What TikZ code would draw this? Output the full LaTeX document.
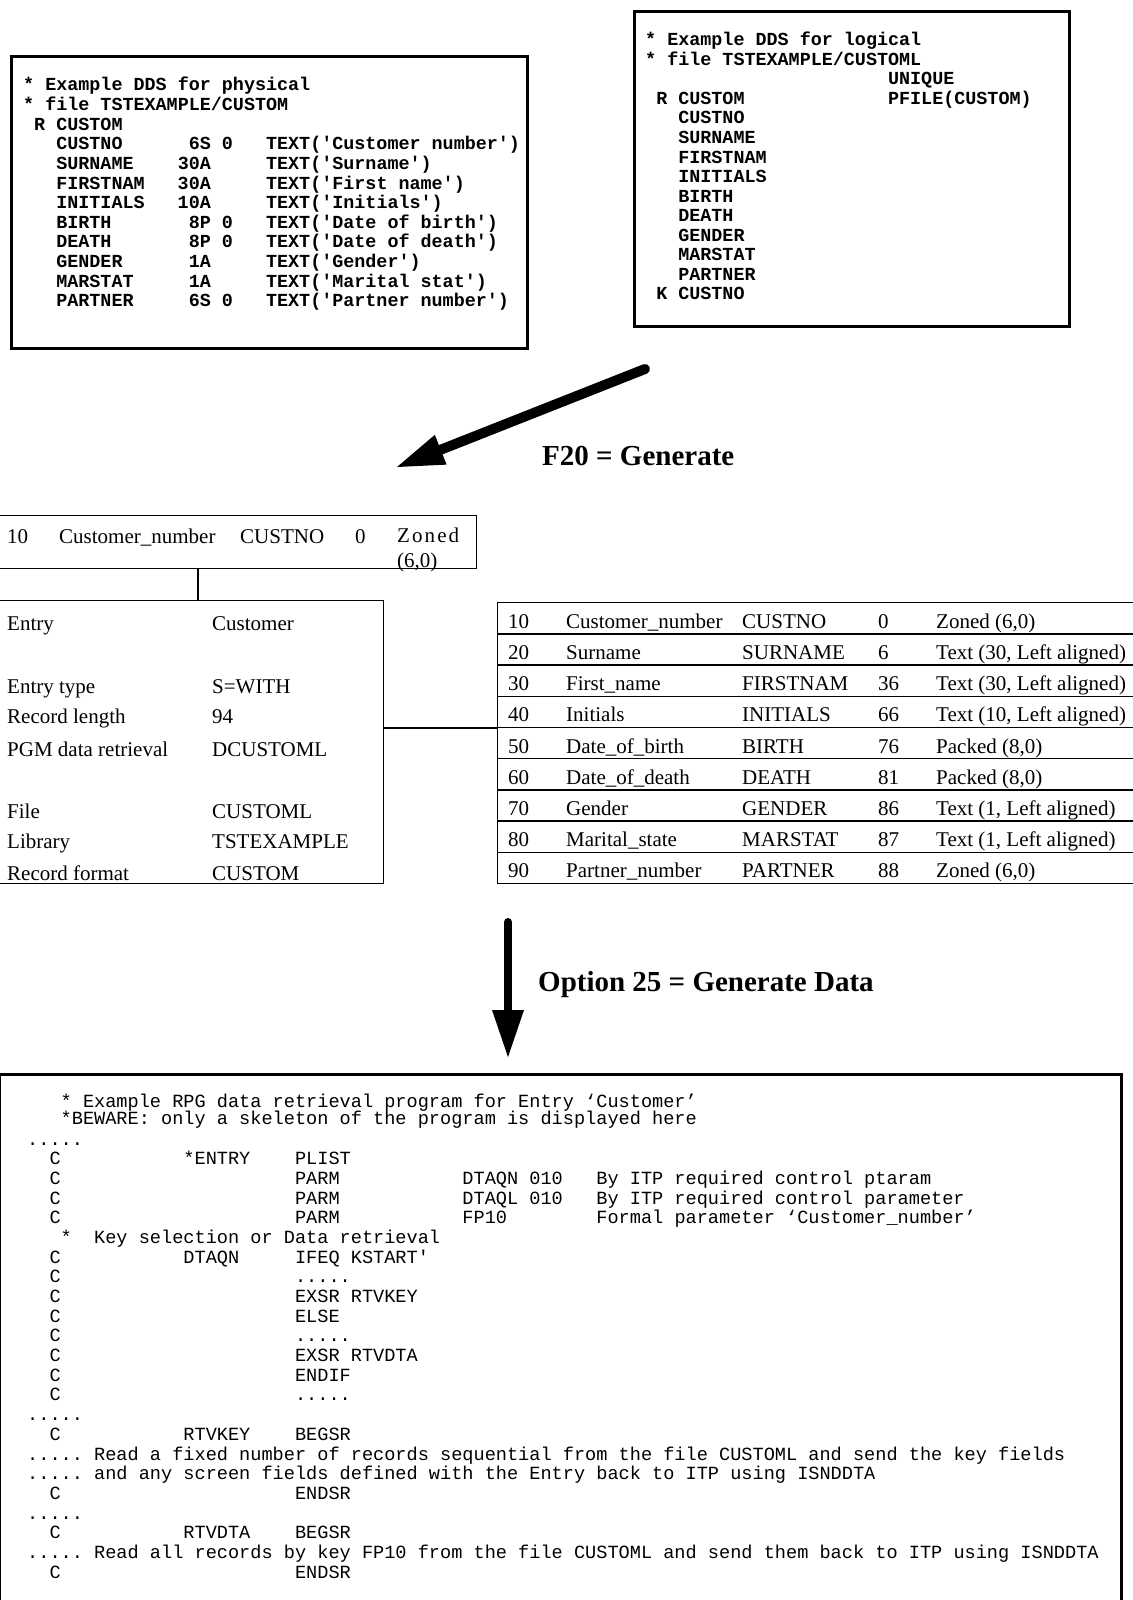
\documentclass[tikz,border=0pt]{standalone}
\usepackage{fontspec}
\setmainfont{Liberation Serif}
\setmonofont{Liberation Mono}
\newfontfamily\zonedfont{Liberation Serif}[LetterSpace=10]
\usetikzlibrary{arrows.meta, positioning}
\newcommand\cgap[1]{\hspace*{#1\dimexpr0.6em\relax}}
\newcommand\rpgdots{.....}

\begin{document}
\begin{tikzpicture}[
    x=1pt, y=-1pt,
    ddsbox/.style={rectangle, draw, line width=3pt, inner sep=0pt, anchor=north west},
    gridbox/.style={rectangle, draw, line width=1.3pt, inner sep=0pt, anchor=north west},
    ddstext/.style={anchor=base west, inner sep=0pt, font=\ttfamily\bfseries\fontsize{18.4}{20}\selectfont},
    rpgline/.style={anchor=base west, inner sep=0pt, font=\ttfamily\fontsize{18.6}{20}\selectfont},
    celltext/.style={anchor=base west, inner sep=0pt, font=\fontsize{21}{24}\selectfont},
    steplabel/.style={anchor=base west, inner sep=0pt, font=\bfseries\fontsize{29}{32}\selectfont},
    fatarrow/.style={-{Triangle[length=47pt,width=32pt,line width=0pt]}, line width=10pt, line cap=round},
    link/.style={line width=1.3pt}
]
\useasboundingbox (0,0) rectangle (1132,1600);

\node[ddsbox, minimum width=516pt, minimum height=292pt] (physdds) at (10,55) {};
\foreach \ln [count=\i] in {{*~Example~DDS~for~physical}, {*~file~TSTEXAMPLE/CUSTOM}, {~R~CUSTOM},
    {\cgap{3}CUSTNO\cgap{6}6S~0\cgap{3}TEXT('Customer~number')},
    {\cgap{3}SURNAME\cgap{4}30A\cgap{5}TEXT('Surname')},
    {\cgap{3}FIRSTNAM\cgap{3}30A\cgap{5}TEXT('First~name')},
    {\cgap{3}INITIALS\cgap{3}10A\cgap{5}TEXT('Initials')},
    {\cgap{3}BIRTH\cgap{7}8P~0\cgap{3}TEXT('Date~of~birth')},
    {\cgap{3}DEATH\cgap{7}8P~0\cgap{3}TEXT('Date~of~death')},
    {\cgap{3}GENDER\cgap{6}1A\cgap{5}TEXT('Gender')},
    {\cgap{3}MARSTAT\cgap{5}1A\cgap{5}TEXT('Marital~stat')},
    {\cgap{3}PARTNER\cgap{5}6S~0\cgap{3}TEXT('Partner~number')}}
  \node[ddstext] (phys\i) at (23,{91+(\i-1)*19.6}) {\ln};

\node[ddsbox, minimum width=435pt, minimum height=315pt] (logdds) at (633,10) {};
\foreach \ln [count=\i] in {{*~Example~DDS~for~logical}, {*~file~TSTEXAMPLE/CUSTOML},
    {\cgap{22}UNIQUE}, {~R~CUSTOM\cgap{13}PFILE(CUSTOM)},
    {\cgap{3}CUSTNO}, {\cgap{3}SURNAME}, {\cgap{3}FIRSTNAM}, {\cgap{3}INITIALS}, {\cgap{3}BIRTH},
    {\cgap{3}DEATH}, {\cgap{3}GENDER}, {\cgap{3}MARSTAT}, {\cgap{3}PARTNER}, {~K~CUSTNO}}
  \node[ddstext] (log\i) at (645,{46+(\i-1)*19.5}) {\ln};

\coordinate (ddsout) at (645,369);
\coordinate (entryin) at (397,467);
\draw[fatarrow] (ddsout) -- (entryin);
\node[steplabel] (genlabel) at (542,465) {F20 = Generate};

\node[gridbox, minimum width=478pt, minimum height=53pt] (hdr) at (-2,515) {};
\node[celltext] (hdrno) at (7,543) {10};
\node[celltext] (hdrnm) at (59,543) {Customer\_number};
\node[celltext] (hdrfld) at (240,543) {CUSTNO};
\node[celltext] (hdrpos) at (355,543) {0};
\node[celltext, font=\zonedfont\fontsize{21}{24}\selectfont] (hdrtyp) at (397,542) {Zoned};
\node[celltext] (hdrlen) at (397,567) {(6,0)};

\node[gridbox, minimum width=385pt, minimum height=283pt] (entry) at (-2,600) {};
\foreach \lab/\val/\yy [count=\e] in {Entry/Customer/630, Entry type/S=WITH/693, Record length/94/723,
    PGM data retrieval/DCUSTOML/756, File/CUSTOML/818, Library/TSTEXAMPLE/848, Record format/CUSTOM/880}
{
  \node[celltext] (elab\e) at (7,\yy) {\lab};
  \node[celltext] (eval\e) at (212,\yy) {\val};
}

\foreach \no/\nm/\fld/\pos/\typ [count=\r] in {
    10/Customer\_number/CUSTNO/0/{Zoned (6,0)},
    20/Surname/SURNAME/6/{Text (30, Left aligned)},
    30/First\_name/FIRSTNAM/36/{Text (30, Left aligned)},
    40/Initials/INITIALS/66/{Text (10, Left aligned)},
    50/Date\_of\_birth/BIRTH/76/{Packed (8,0)},
    60/Date\_of\_death/DEATH/81/{Packed (8,0)},
    70/Gender/GENDER/86/{Text (1, Left aligned)},
    80/Marital\_state/MARSTAT/87/{Text (1, Left aligned)},
    90/Partner\_number/PARTNER/88/{Zoned (6,0)}}
{
  \node[gridbox, minimum width=643pt, minimum height=31.2pt] (row\r) at (497,{602+(\r-1)*31.2}) {};
  \node[celltext] (no\r) at (508,{597+\r*31.2}) {\no};
  \node[celltext] (nm\r) at (566,{597+\r*31.2}) {\nm};
  \node[celltext] (fld\r) at (742,{597+\r*31.2}) {\fld};
  \node[celltext] (pos\r) at (878,{597+\r*31.2}) {\pos};
  \node[celltext] (typ\r) at (936,{597+\r*31.2}) {\typ};
}

\coordinate (hdrtap) at (198,568);
\draw[link] (hdrtap) -- (hdrtap |- entry.north);
\draw[link] (entry.east |- row4.south) -- (row4.south west);

\coordinate (entryout) at (508,922);
\coordinate (rpgin) at (508,1057);
\draw[fatarrow, line width=8pt] (entryout) -- (rpgin);
\node[steplabel] (optlabel) at (538,991) {Option 25 = Generate Data};

\node[ddsbox, minimum width=1122pt, minimum height=540pt] (rpgbox) at (-2,1073) {};
\node[rpgline] (rpg0) at (27,1107) {\cgap{3}*~Example~RPG~data~retrieval~program~for~Entry~‘Customer’};
\node[rpgline] (rpg1) at (27,1124) {\cgap{3}*BEWARE:~only~a~skeleton~of~the~program~is~displayed~here};
\foreach \ln [count=\k from 2] in {{\rpgdots},
    {\cgap{2}C\cgap{11}*ENTRY\cgap{4}PLIST},
    {\cgap{2}C\cgap{21}PARM\cgap{11}DTAQN~010\cgap{3}By~ITP~required~control~ptaram},
    {\cgap{2}C\cgap{21}PARM\cgap{11}DTAQL~010\cgap{3}By~ITP~required~control~parameter},
    {\cgap{2}C\cgap{21}PARM\cgap{11}FP10\cgap{8}Formal~parameter~‘Customer\_number’},
    {\cgap{3}*~~Key~selection~or~Data~retrieval},
    {\cgap{2}C\cgap{11}DTAQN\cgap{5}IFEQ~KSTART'},
    {\cgap{2}C\cgap{21}\rpgdots},
    {\cgap{2}C\cgap{21}EXSR~RTVKEY},
    {\cgap{2}C\cgap{21}ELSE},
    {\cgap{2}C\cgap{21}\rpgdots},
    {\cgap{2}C\cgap{21}EXSR~RTVDTA},
    {\cgap{2}C\cgap{21}ENDIF},
    {\cgap{2}C\cgap{21}\rpgdots},
    {\rpgdots},
    {\cgap{2}C\cgap{11}RTVKEY\cgap{4}BEGSR},
    {\rpgdots~Read~a~fixed~number~of~records~sequential~from~the~file~CUSTOML~and~send~the~key~fields},
    {\rpgdots~and~any~screen~fields~defined~with~the~Entry~back~to~ITP~using~ISNDDTA},
    {\cgap{2}C\cgap{21}ENDSR},
    {\rpgdots},
    {\cgap{2}C\cgap{11}RTVDTA\cgap{4}BEGSR},
    {\rpgdots~Read~all~records~by~key~FP10~from~the~file~CUSTOML~and~send~them~back~to~ITP~using~ISNDDTA},
    {\cgap{2}C\cgap{21}ENDSR}}
  \node[rpgline] (rpg\k) at (27,{1145+(\k-2)*19.69}) {\ln};
\end{tikzpicture}
\end{document}
